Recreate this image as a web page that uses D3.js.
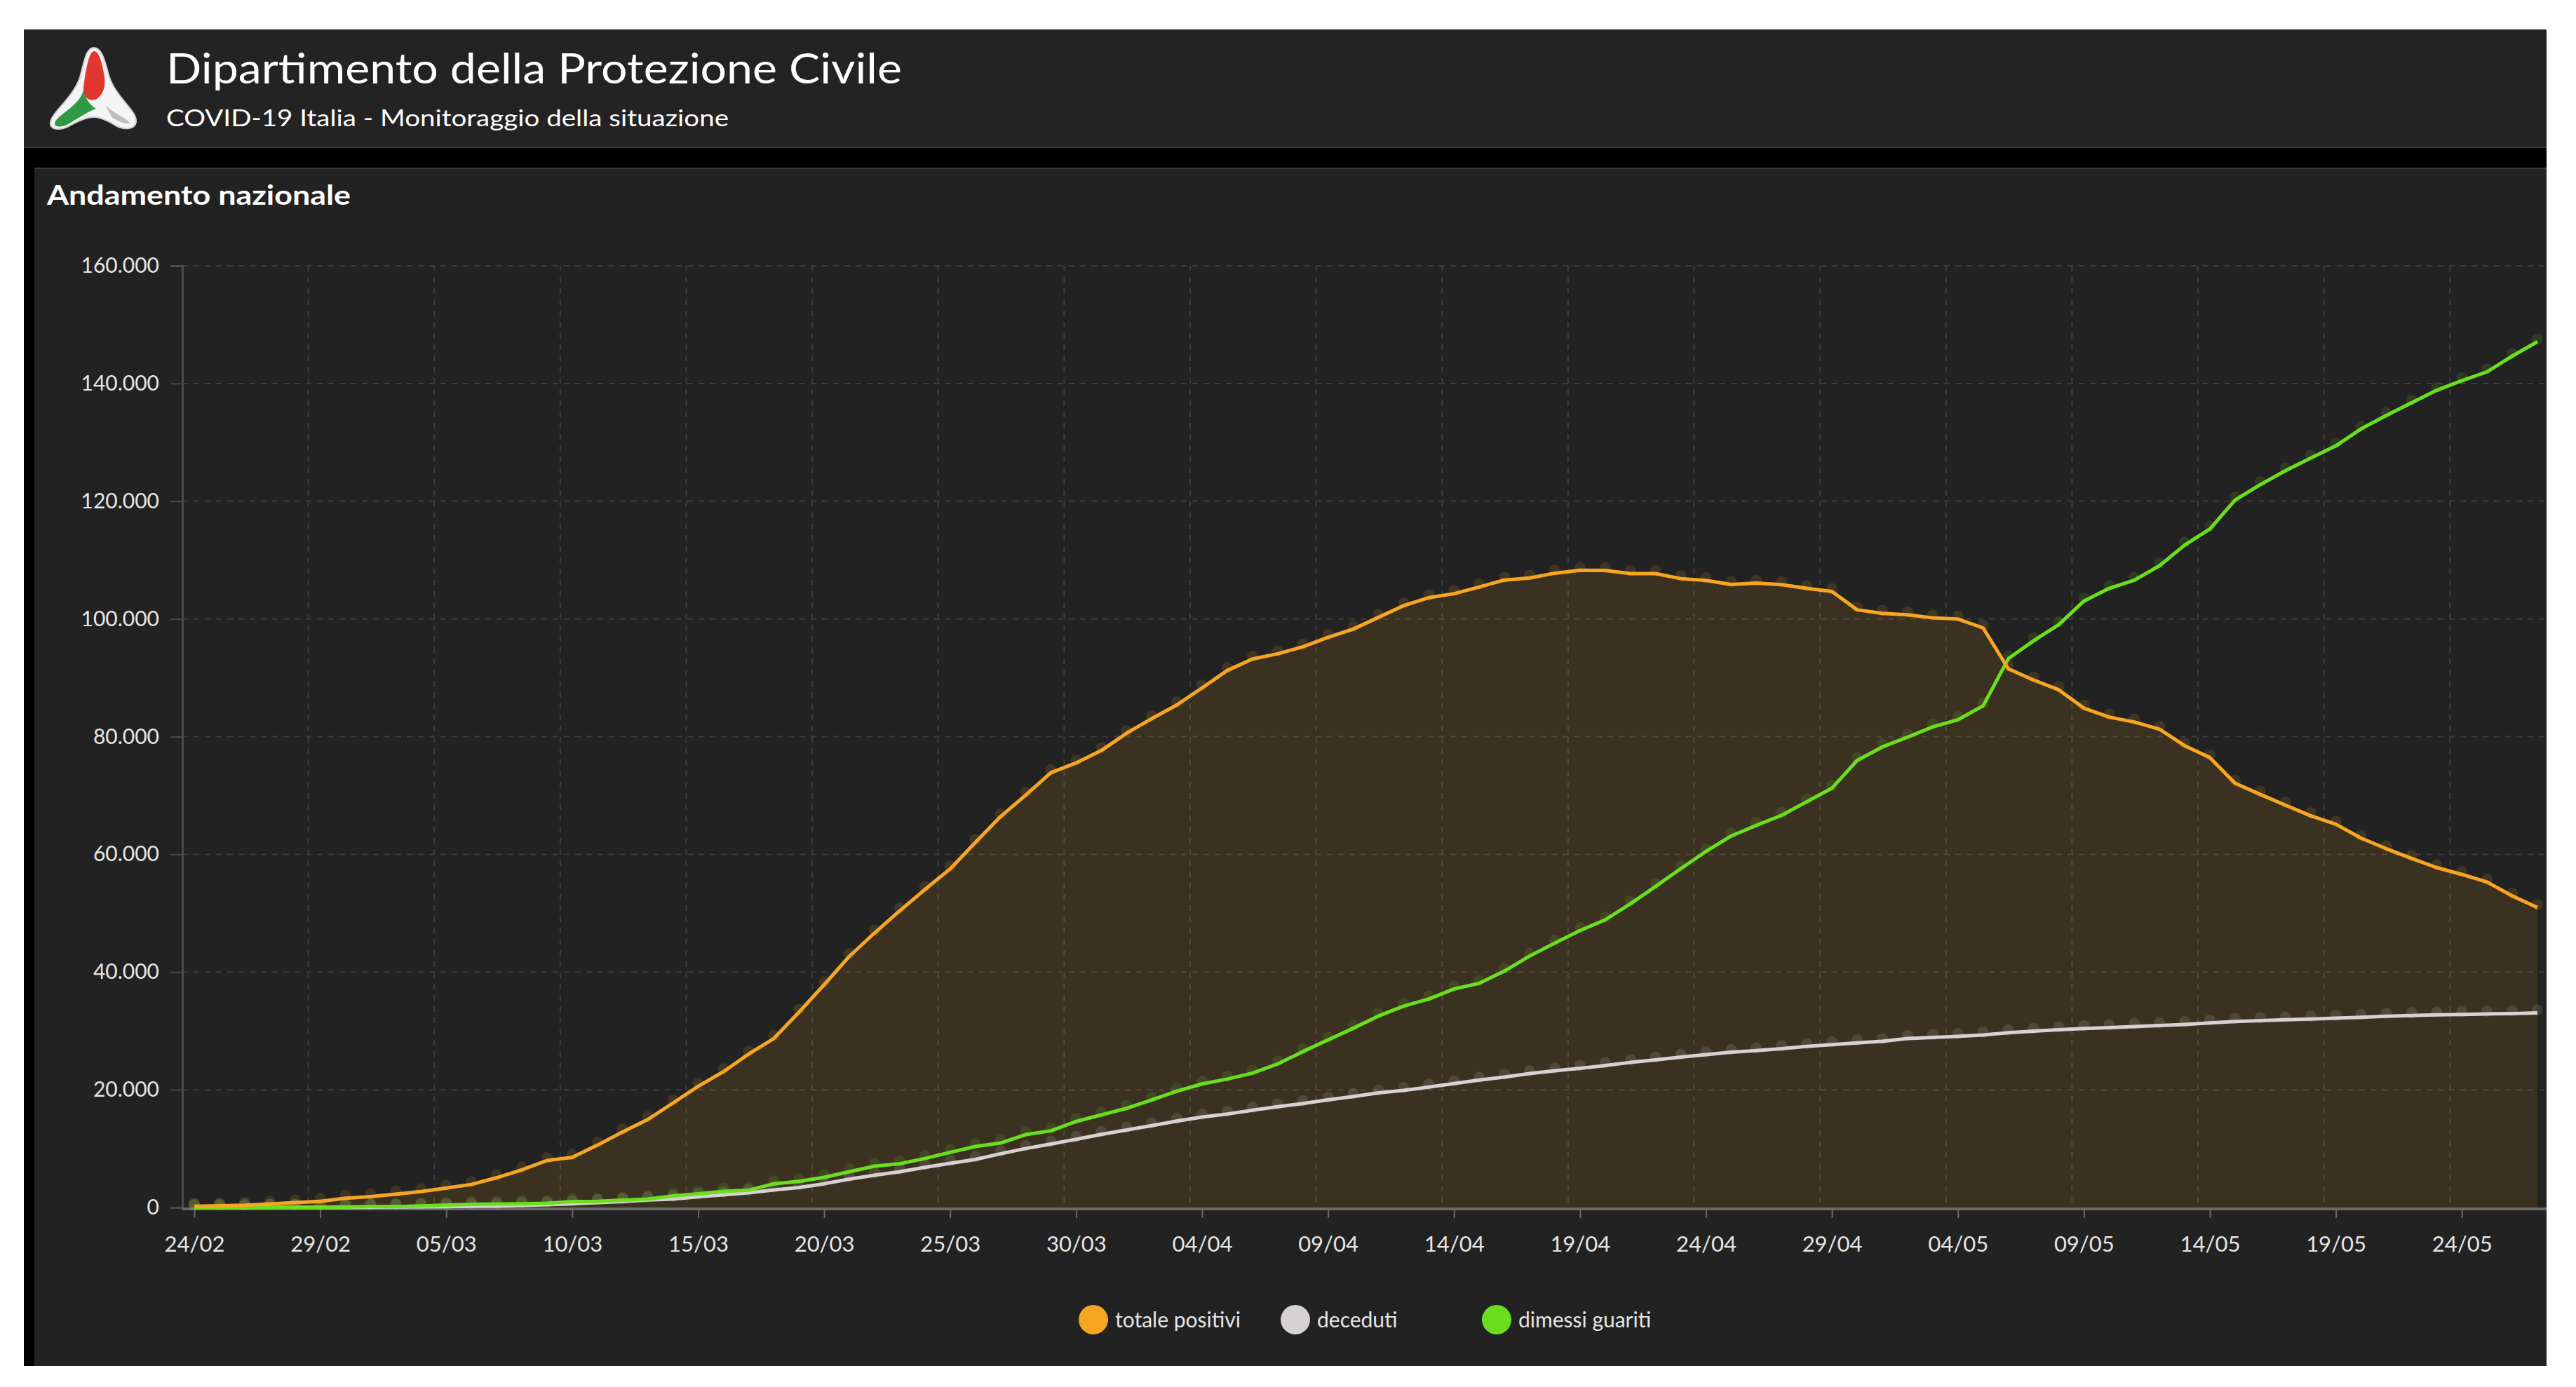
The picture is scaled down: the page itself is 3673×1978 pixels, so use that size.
<!DOCTYPE html>
<html>
<head>
<meta charset="utf-8">
<script src="https://cdn.jsdelivr.net/npm/d3@7"></script>
<style>
  html, body { margin: 0; padding: 0; background: #ffffff; }
  svg { display: block; }
  text { font-family: Lato, "Open Sans", sans-serif; }
</style>
</head>
<body>
<svg id="chart" width="3673" height="1978"></svg>
<script>
// ---------------- DATA ----------------
const dates = [
  "24/02","25/02","26/02","27/02","28/02","29/02",
  "01/03","02/03","03/03","04/03","05/03","06/03","07/03","08/03","09/03","10/03",
  "11/03","12/03","13/03","14/03","15/03","16/03","17/03","18/03","19/03","20/03",
  "21/03","22/03","23/03","24/03","25/03","26/03","27/03","28/03","29/03","30/03","31/03",
  "01/04","02/04","03/04","04/04","05/04","06/04","07/04","08/04","09/04","10/04",
  "11/04","12/04","13/04","14/04","15/04","16/04","17/04","18/04","19/04","20/04",
  "21/04","22/04","23/04","24/04","25/04","26/04","27/04","28/04","29/04","30/04",
  "01/05","02/05","03/05","04/05","05/05","06/05","07/05","08/05","09/05","10/05",
  "11/05","12/05","13/05","14/05","15/05","16/05","17/05","18/05","19/05","20/05",
  "21/05","22/05","23/05","24/05","25/05","26/05","27/05"
];
const totalePositivi = [
  221,311,385,588,821,1049,
  1577,1835,2263,2706,3296,3916,5061,6387,7985,8514,
  10590,12839,14955,17750,20603,23073,26062,28710,33190,37860,
  42681,46638,50418,54030,57521,62013,66414,70065,73880,75528,77635,
  80572,83049,85388,88274,91246,93187,94067,95262,96877,98273,
  100269,102253,103616,104291,105418,106607,106962,107771,108257,108237,
  107709,107699,106848,106527,105847,106103,105813,105205,104657,101551,
  100943,100704,100179,99980,98467,91528,89624,87961,84842,83324,
  82488,81266,78457,76440,72070,70187,68351,66553,65129,62752,
  60960,59322,57752,56594,55300,52942,50966
];
const deceduti = [
  7,10,12,17,21,29,
  34,52,79,107,148,197,233,366,463,631,
  827,1016,1266,1441,1809,2158,2503,2978,3405,4032,
  4825,5476,6077,6820,7503,8165,9134,10023,10779,11591,12428,
  13155,13915,14681,15362,15887,16523,17127,17669,18279,18849,
  19468,19899,20465,21067,21645,22170,22745,23227,23660,24114,
  24648,25085,25549,25969,26384,26644,26977,27359,27682,27967,
  28236,28710,28884,29079,29315,29684,29958,30201,30395,30560,
  30739,30911,31106,31368,31610,31763,31908,32007,32169,32330,
  32486,32616,32735,32785,32877,32955,33072
];
const dimessiGuariti = [
  1,1,3,45,46,50,
  83,149,160,276,414,523,589,622,724,1004,
  1045,1258,1439,1966,2335,2749,2941,4025,4440,5129,
  6072,7024,7432,8326,9362,10361,10950,12384,13030,14620,15729,
  16847,18278,19758,20996,21815,22837,24392,26491,28470,30455,
  32534,34211,35435,37130,38092,40164,42727,44927,47055,48877,
  51600,54543,57576,60498,63120,64928,66624,68941,71252,75945,
  78249,79914,81654,82879,85231,93245,96276,99023,103031,105186,
  106587,109039,112541,115288,120205,122810,125176,127326,129401,132282,
  134560,136720,138840,140479,141981,144658,147101
];
const xTickLabels = ["24/02","29/02","05/03","10/03","15/03","20/03","25/03","30/03",
  "04/04","09/04","14/04","19/04","24/04","29/04","04/05","09/05","14/05","19/05","24/05"];
const yTicks = [0,20000,40000,60000,80000,100000,120000,140000,160000];
const seriesNames = ["totale positivi","deceduti","dimessi guariti"];
const seriesColors = ["#F6A623","#D6D2D2","#6BDE1F"];

// ---------------- LAYOUT ----------------
const svg = d3.select("#chart");
const panelL = 34, panelR = 3631, headerT = 42, headerB = 210, chartT = 237, chartB = 1948;
const plotL = 260, plotR = 3631, plotT = 379, plotB = 1722;

const parseDate = d3.timeParse("%d/%m/%Y");
const dateObjs = dates.map(d => parseDate(d + "/2020"));

const x = d3.scaleTime()
  .domain([dateObjs[0], dateObjs[dateObjs.length - 1]])
  .range([277, 3618]);
const y = d3.scaleLinear().domain([0, 160000]).range([plotB, plotT]);

const itLocale = d3.formatLocale({decimal: ",", thousands: ".", grouping: [3], currency: ["€", ""]});
const fmt = itLocale.format(",");

// backgrounds
svg.append("rect").attr("x", panelL).attr("y", headerT).attr("width", panelR - panelL).attr("height", headerB - headerT).attr("fill", "#232323");
svg.append("rect").attr("x", panelL).attr("y", headerB).attr("width", panelR - panelL).attr("height", chartT - headerB).attr("fill", "#000000");
svg.append("line").attr("x1", panelL).attr("x2", panelR).attr("y1", headerB).attr("y2", headerB).attr("stroke", "#3a3a3a").attr("stroke-width", 2);
svg.append("rect").attr("x", panelL).attr("y", chartT).attr("width", panelR - panelL).attr("height", chartB - chartT).attr("fill", "#000000");
svg.append("rect").attr("x", 49).attr("y", chartT + 3).attr("width", panelR - 49).attr("height", chartB - chartT - 3).attr("fill", "#222222");
svg.append("line").attr("x1", 49).attr("x2", panelR).attr("y1", chartT + 3).attr("y2", chartT + 3).attr("stroke", "#3a3a3a").attr("stroke-width", 2);

// logo
const logo = svg.append("g");
logo.append("path")
  .attr("d", "M134,68 C146,68 150,90 156,110 C166,140 196,158 194,174 C192,186 176,185 165,179 C152,171 142,167 134,167 C124,167 112,172 98,180 C86,186 70,186 72,174 C74,160 104,140 114,110 C120,90 122,68 134,68 Z")
  .attr("fill", "#f4f4f4").attr("stroke", "#cfcfcf").attr("stroke-width", 2);
logo.append("path")
  .attr("d", "M134,73 C142,73 146,92 149,110 C151,124 146,136 138,141 C129,146 118,140 119,125 C121,108 126,73 134,73 Z")
  .attr("fill", "#e2372e");
logo.append("path")
  .attr("d", "M119,128 C114,150 88,160 79,173 C74,182 88,183 99,176 C112,168 124,160 137,155 C129,150 122,142 119,128 Z")
  .attr("fill", "#2f9a44");
logo.append("path")
  .attr("d", "M150,150 C160,160 180,168 186,176 C178,178 168,172 160,168 Z")
  .attr("fill", "#bdbdbd");

// header texts
svg.append("text").attr("x", 237).attr("y", 119).attr("fill", "#ffffff")
  .attr("font-size", 60).attr("textLength", 1049).attr("lengthAdjust", "spacingAndGlyphs")
  .text("Dipartimento della Protezione Civile");
svg.append("text").attr("x", 237).attr("y", 180).attr("fill", "#ffffff")
  .attr("font-size", 33).attr("textLength", 802).attr("lengthAdjust", "spacingAndGlyphs")
  .text("COVID-19 Italia - Monitoraggio della situazione");
svg.append("text").attr("x", 67).attr("y", 292).attr("fill", "#ffffff")
  .attr("font-size", 39).attr("font-weight", "bold").attr("textLength", 433).attr("lengthAdjust", "spacingAndGlyphs")
  .text("Andamento nazionale");

// grid
const tickDates = xTickLabels.map(d => parseDate(d + "/2020"));
const grid = svg.append("g");
grid.selectAll("line.h").data(yTicks.filter(v => v > 0)).join("line")
  .attr("x1", plotL).attr("x2", plotR)
  .attr("y1", d => y(d)).attr("y2", d => y(d))
  .attr("stroke", "#3d3d3d").attr("stroke-width", 2).attr("stroke-dasharray", "8,8");
grid.selectAll("line.v").data(tickDates.slice(1)).join("line")
  .attr("x1", d => x(d) - 17).attr("x2", d => x(d) - 17)
  .attr("y1", plotT).attr("y2", plotB)
  .attr("stroke", "#3d3d3d").attr("stroke-width", 2).attr("stroke-dasharray", "8,8");

// area for totale positivi
const idx = d3.range(dates.length);
const area = d3.area().x(i => x(dateObjs[i])).y0(y(0)).y1(i => y(totalePositivi[i]));
svg.append("path").datum(idx).attr("d", area).attr("fill", "#F6A623").attr("fill-opacity", 0.12);

// y axis
const yAxis = d3.axisLeft(y).tickValues(yTicks).tickFormat(fmt).tickSize(17).tickPadding(16);
const gy = svg.append("g").attr("transform", `translate(${plotL},0)`).call(yAxis);
gy.select(".domain").attr("stroke", "#4a4a4a").attr("stroke-width", 3);
gy.selectAll(".tick line").attr("stroke", "#4a4a4a").attr("stroke-width", 2);
gy.selectAll(".tick text").attr("fill", "#e6e6e6").attr("font-size", 30).attr("font-family", "Lato, sans-serif");

// x axis
const xAxis = d3.axisBottom(x).tickValues(tickDates).tickFormat((d, i) => xTickLabels[i]).tickSize(13).tickPadding(26).tickSizeOuter(0);
const gx = svg.append("g").attr("transform", `translate(0,${plotB + 2})`).call(xAxis);
gx.select(".domain").attr("stroke", "#6a6a6a").attr("stroke-width", 4).attr("d", `M${plotL},0H${plotR}`);
gx.selectAll(".tick line").attr("stroke", "#6a6a6a").attr("stroke-width", 2);
gx.selectAll(".tick text").attr("fill", "#e6e6e6").attr("font-size", 31).attr("font-family", "Lato, sans-serif");

// lines + markers
const seriesVals = [totalePositivi, deceduti, dimessiGuariti];
const drawOrder = [1, 2, 0];
drawOrder.forEach(s => {
  const vals = seriesVals[s];
  svg.append("g").selectAll("circle").data(idx).join("circle")
    .attr("cx", i => x(dateObjs[i])).attr("cy", i => y(vals[i]) - 4)
    .attr("r", 8).attr("fill", seriesColors[s]).attr("fill-opacity", 0.14);
});
drawOrder.forEach(s => {
  const vals = seriesVals[s];
  const line = d3.line().x(i => x(dateObjs[i])).y(i => y(vals[i]));
  svg.append("path").datum(idx).attr("d", line).attr("fill", "none")
    .attr("stroke", seriesColors[s]).attr("stroke-width", 5).attr("stroke-linejoin", "round");
});

// legend
const legendX = [1559, 1847, 2134];
const lg = svg.append("g");
seriesNames.forEach((n, i) => {
  lg.append("circle").attr("cx", legendX[i]).attr("cy", 1882).attr("r", 21).attr("fill", seriesColors[i]);
  lg.append("text").attr("x", legendX[i] + 31).attr("y", 1882).attr("dy", "0.35em")
    .attr("fill", "#e6e6e6").attr("font-size", 30).text(n);
});
</script>
</body>
</html>
